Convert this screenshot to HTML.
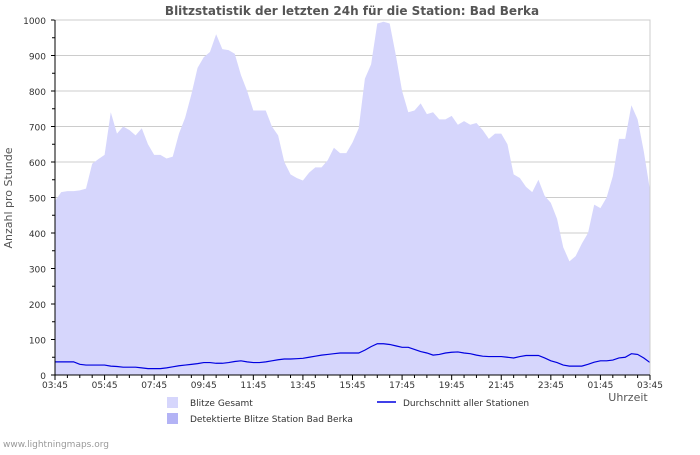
<!DOCTYPE html>
<html><head><meta charset="utf-8"><style>
body{margin:0;background:#fff;width:700px;height:450px;overflow:hidden;font-family:"Liberation Sans",sans-serif}
svg text{font-family:"DejaVu Sans","Liberation Sans",sans-serif}
</style></head><body>
<svg id="chart" width="700" height="450" xmlns="http://www.w3.org/2000/svg">
<text x="352" y="15" text-anchor="middle" font-size="12" font-weight="bold" fill="#555">Blitzstatistik der letzten 24h für die Station: Bad Berka</text>
<text transform="translate(12,198) rotate(-90)" text-anchor="middle" font-size="11" fill="#555">Anzahl pro Stunde</text>
<text x="628" y="401" text-anchor="middle" font-size="11" fill="#555">Uhrzeit</text>
<g id="grid"></g><g id="series"></g><g id="axes"></g>
<rect x="167" y="397" width="11" height="11" fill="#d6d6fc"/>
<text x="190" y="406" font-size="9" fill="#333">Blitze Gesamt</text>
<rect x="167" y="413" width="11" height="11" fill="#b3b3f5"/>
<text x="190" y="422" font-size="9" fill="#333">Detektierte Blitze Station Bad Berka</text>
<line x1="377" y1="402" x2="396" y2="402" stroke="#0000e0" stroke-width="1.5"/>
<text x="403" y="406" font-size="9" fill="#333">Durchschnitt aller Stationen</text>
<text x="3" y="447" font-size="9" fill="#999">www.lightningmaps.org</text>
</svg>
<script>
const total=[490,515,518,518,520,525,595,608,620,740,680,700,690,675,695,650,620,620,610,615,680,725,790,865,895,910,960,918,915,905,845,800,745,745,745,700,675,600,565,555,548,570,585,585,605,640,625,625,655,695,835,875,990,995,990,900,800,740,745,765,735,740,720,720,730,705,715,705,710,690,665,680,680,650,565,555,530,515,550,505,485,440,360,320,335,370,400,480,470,500,560,665,665,760,720,630,520];
const average=[37,37,37,37,30,28,28,28,28,25,24,22,22,22,20,18,18,18,20,23,26,28,30,32,35,35,33,33,35,38,40,37,35,35,37,40,43,45,45,46,47,50,53,56,58,60,62,62,62,62,70,80,88,88,86,82,78,78,72,66,62,56,58,62,64,65,62,60,56,53,52,52,52,50,48,52,55,55,55,48,40,35,28,25,25,25,30,36,40,40,42,48,50,60,58,48,35];
const xLabels=["03:45","05:45","07:45","09:45","11:45","13:45","15:45","17:45","19:45","21:45","23:45","01:45","03:45"];
const yTicks=[0,100,200,300,400,500,600,700,800,900,1000];
const X0=55,X1=650,Y0=375,Y1=20,N=total.length-1;
const sx=i=>X0+(X1-X0)*i/N, sy=v=>Y0-(Y0-Y1)*v/1000;
const NS="http://www.w3.org/2000/svg";
function mk(p,t,a){const e=document.createElementNS(NS,t);for(const k in a)e.setAttribute(k,a[k]);p.appendChild(e);return e;}
const grid=document.getElementById('grid'),ser=document.getElementById('series'),ax=document.getElementById('axes');
yTicks.forEach(v=>{const l=mk(grid,'line',{x1:X0,x2:X1,y1:sy(v),y2:sy(v),stroke:'#ccc','stroke-width':1});


const t=mk(ax,'text',{x:X0-9,y:sy(v)+4,'text-anchor':'end','font-size':9,fill:'#333'});t.textContent=v;


mk(ax,'line',{x1:X0,x2:X0-4,y1:sy(v),y2:sy(v),stroke:'#000'});
if(v<1000)mk(ax,'line',{x1:X0,x2:X0-3,y1:sy(v+50),y2:sy(v+50),stroke:'#000'});});
let d='M'+sx(0)+','+Y0;total.forEach((v,i)=>{d+='L'+sx(i)+','+sy(v);});d+='L'+sx(N)+','+Y0+'Z';
const area=mk(ser,'path',{d:d,fill:'#d6d6fc'});


const line=mk(ser,'polyline',{points:average.map((v,i)=>sx(i)+','+sy(v)).join(' '),fill:'none',stroke:'#0000e0','stroke-width':1.2});


mk(ax,'rect',{x:X0,y:Y1,width:X1-X0,height:Y0-Y1,fill:'none',stroke:'#ccc'});
mk(ax,'line',{x1:X0,x2:X0,y1:Y1,y2:Y0,stroke:'#000'});
mk(ax,'line',{x1:X0,x2:X1,y1:Y0,y2:Y0,stroke:'#000'});
for(let h=0;h<=48;h++){const x=X0+(X1-X0)*h/48;mk(ax,'line',{x1:x,x2:x,y1:Y0,y2:Y0+(h%4==0?5:3),stroke:'#000'});}
xLabels.forEach((s,i)=>{const t=mk(ax,'text',{x:X0+(X1-X0)*i/12,y:388,'text-anchor':'middle','font-size':9,fill:'#333'});t.textContent=s;

});
</script>
</body></html>
